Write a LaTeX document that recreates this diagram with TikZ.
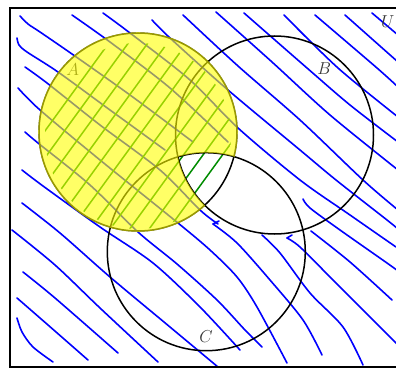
\documentclass[tikz,border=0pt]{standalone}
\definecolor{hblue}{RGB}{0,0,255}
\definecolor{hgreen}{RGB}{0,140,0}
\definecolor{hyellow}{RGB}{255,255,0}
\definecolor{labelgray}{RGB}{55,55,55}
\tikzset{
  hatch/.style={draw=hblue, line width=1.6pt, line cap=round, line join=round},
  ghatch/.style={draw=hgreen, line width=1.5pt, line cap=round},
  setcircle/.style={draw=black, line width=1.5pt},
  setlabel/.style={text=labelgray, font=\fontsize{17}{17}\selectfont, inner sep=0pt},
  frame/.style={draw=black, line width=1.8pt},
}
\begin{document}
\begin{tikzpicture}[x=1pt,y=-1pt]
\useasboundingbox (0,0) rectangle (396,369);
\fill[white] (0,0) rectangle (396,369);
\clip (0,0) rectangle (396,369);
\coordinate (cA) at (138,132);
\coordinate (cB) at (274.5,135);
\coordinate (cC) at (206.3,251.7);

% ---------------- blue hatching ----------------
\draw[hatch] plot[smooth,tension=0.5] coordinates {(20,16) (28,24) (40,32) (72,54) (130,95) (193,142)};
\draw[hatch] plot[smooth,tension=0.5] coordinates {(17,38) (19,45) (27,52) (58,72) (110,110) (165,150)};
\draw[hatch] plot[smooth,tension=0.5] coordinates {(25,67) (47,83) (100,125) (160,170) (200,210) (218,224)};
\draw[hatch] plot[smooth,tension=0.5] coordinates {(18,88) (40,110) (100,160) (178,223) (210,250) (237,277) (257,307) (287,363)};
\draw[hatch] plot[smooth,tension=0.5] coordinates {(25,132) (38,143) (90,185) (138,232) (177,264) (217,300) (245,330) (262,347)};
\draw[hatch] plot[smooth,tension=0.5] coordinates {(22,170) (43,186) (100,227) (153,263) (200,307) (240,350)};
\draw[hatch] plot[smooth,tension=0.5] coordinates {(22,203) (60,233) (110,277) (170,327) (218,367)};
\draw[hatch] plot[smooth,tension=0.5] coordinates {(12,230) (55,265) (100,308) (158,362)};
\draw[hatch] plot[smooth,tension=0.5] coordinates {(23,272) (55,298) (118,353)};
\draw[hatch] plot[smooth,tension=0.5] coordinates {(17,298) (40,318) (88,360)};
\draw[hatch] plot[smooth,tension=0.5] coordinates {(17,318) (22,332) (33,347) (53,362)};

\draw[hatch] plot[smooth,tension=0.5] coordinates {(72,15) (110,42) (170,88) (228,142)};
\draw[hatch] plot[smooth,tension=0.5] coordinates {(103,13) (130,33) (190,80) (238,128) (300,180) (350,215) (396,247)};
\draw[hatch] plot[smooth,tension=0.5] coordinates {(152,20) (170,38) (228,90) (300,150) (336,180) (387,220) (398,229)};
\draw[hatch] plot[smooth,tension=0.5] coordinates {(183,15) (238,66) (300,120) (363,180) (398,210)};
\draw[hatch] plot[smooth,tension=0.5] coordinates {(216,12) (272,62) (330,115) (398,170)};
\draw[hatch] plot[smooth,tension=0.5] coordinates {(244,13) (307,68) (350,105) (398,142)};
\draw[hatch] plot[smooth,tension=0.5] coordinates {(284,15) (338,68) (398,117)};
\draw[hatch] plot[smooth,tension=0.5] coordinates {(315,15) (377,68) (398,87)};
\draw[hatch] plot[smooth,tension=0.5] coordinates {(345,15) (398,62)};
\draw[hatch] plot[smooth,tension=0.5] coordinates {(372,13) (398,35)};

\draw[hatch] plot[smooth,tension=0.5] coordinates {(213,224) (237,243) (270,280) (303,320) (322,355)};
\draw[hatch] (213,224) -- (219,221);
\draw[hatch] plot[smooth,tension=0.5] coordinates {(262,235) (280,253) (310,293) (343,327) (363,365)};
\draw[hatch] plot[smooth,tension=0.5] coordinates {(287,238) (300,247) (333,280) (363,310) (398,345)};
\draw[hatch] (287,238) -- (292,235);
\draw[hatch] plot[smooth,tension=0.5] coordinates {(311,231) (350,262) (392,300)};
\draw[hatch] plot[smooth,tension=0.5] coordinates {(303,199) (310,208) (340,230) (387,263) (398,271)};

% ---------------- green hatching in A ----------------
\begin{scope}
  \clip (138,136) circle[radius=93pt];
  \foreach \k in {0,...,10} {
    \pgfmathsetmacro\xk{42+19.5*\k}
    \draw[ghatch] ({\xk-76.44},{135+105.17}) -- ({\xk+76.44},{135-105.17});
  }
\end{scope}

% ---------------- circles ----------------
\draw[setcircle] (cA) circle[radius=99pt];
\draw[setcircle] (cB) circle[radius=99pt];
\draw[setcircle] (cC) circle[radius=99pt];

\node[setlabel] (labA) at (72.7,69.5) {$A$};

% ---------------- yellow: A minus (B cap C) ----------------
\begin{scope}
  \clip (cA) circle[radius=99.8pt];
  \fill[hyellow, fill opacity=0.6, even odd rule]
    (0,0) rectangle (396,369)
    (302.86,229.85) arc[start angle=12.75, end angle=106.65, radius=99pt]
    arc[start angle=192.75, end angle=286.65, radius=99pt] -- cycle;
\end{scope}

% ---------------- frame and labels ----------------
\draw[frame] (10,8) rectangle (399,367.3);
\node[setlabel] (labB) at (324.3,69) {$B$};
\node[setlabel] (labC) at (206,336.7) {$C$};
\node[setlabel] (labU) at (387.7,21.7) {$U$};
\end{tikzpicture}
\end{document}
